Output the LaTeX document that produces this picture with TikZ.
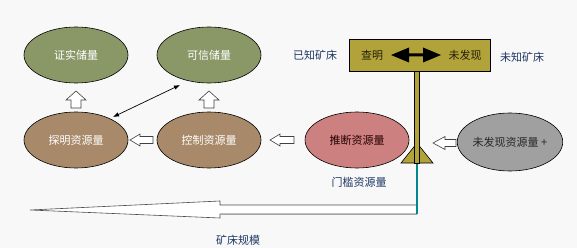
\documentclass[tikz,border=0pt]{standalone}
\usepackage{fontspec}
\newfontfamily\cjk{Noto Sans CJK SC}
\usetikzlibrary{shapes.geometric,arrows.meta}
\definecolor{bgc}{RGB}{248,248,248}
\definecolor{greenE}{RGB}{138,152,104}
\definecolor{brownE}{RGB}{168,138,106}
\definecolor{pinkE}{RGB}{204,128,128}
\definecolor{grayE}{RGB}{160,160,160}
\definecolor{olive}{RGB}{178,162,58}
\definecolor{navy}{RGB}{30,55,100}
\definecolor{tealc}{RGB}{0,136,140}
\tikzset{
  ell/.style={ellipse, draw=black, line width=0.6pt, minimum width=104pt, minimum height=56pt, inner sep=0pt, font=\cjk\fontsize{11}{13}\selectfont},
  wtext/.style={text=white},
  lbl/.style={font=\cjk\fontsize{11}{13}\selectfont, text=navy, inner sep=0pt},
  blk/.style={draw=black!75, fill=white, line width=0.6pt, line join=miter},
}
\begin{document}
\begin{tikzpicture}[x=1pt,y=-1pt]
\useasboundingbox (0,0) rectangle (577,248);
\fill[bgc] (0,0) rectangle (577,248);

% ellipses
\node[ell, fill=greenE, wtext] (zs) at (76,55) {证实储量};
\node[ell, fill=greenE, wtext] (kx) at (209,55) {可信储量};
\node[ell, fill=brownE, wtext] (tm) at (76,140) {探明资源量};
\node[ell, fill=brownE, wtext] (kz) at (209,140) {控制资源量};
\node[ell, fill=pinkE, text=black!85!red] (td) at (357,140) {推断资源量};
\node[ell, fill=grayE, text=black!85, minimum height=58pt] (wf) at (510,142) {未发现资源量 +};

% up block arrows
\draw[blk] (76,91) -- (86,100) -- (81,100) -- (81,108) -- (71,108) -- (71,100) -- (66,100) -- cycle;
\draw[blk] (209,91) -- (219,100) -- (214,100) -- (214,108) -- (204,108) -- (204,100) -- (199,100) -- cycle;

% left block arrows
\draw[blk] (130,140) -- (140,134) -- (140,136.5) -- (153,136.5) -- (153,143.5) -- (140,143.5) -- (140,146) -- cycle;
\draw[blk] (270,140) -- (280,134) -- (280,136.5) -- (294,136.5) -- (294,143.5) -- (280,143.5) -- (280,146) -- cycle;
\draw[blk] (433,143) -- (445,136.5) -- (445,139.5) -- (456,139.5) -- (456,146.5) -- (445,146.5) -- (445,149.5) -- cycle;

% thin double arrow
\coordinate (d1) at (113,117);
\coordinate (d2) at (180,85);
\draw[line width=0.7pt, {Latex[length=6pt,width=4.5pt]}-{Latex[length=6pt,width=4.5pt]}] (d1) -- (d2);

% big scale arrow
\draw[blk, draw=black!70] (30,210) -- (220,201) -- (220,205) -- (417,205) -- (417,214) -- (220,214) -- (220,218) -- cycle;
\draw[gray!70, line width=0.8pt] (220,214.6) -- (417,214.6);

% balance: triangle, pole, teal line
\draw[fill=olive, draw=black, line width=0.6pt] (401,163) -- (417,143) -- (433,163) -- cycle;
\draw[tealc, line width=2.4pt] (417,163) -- (417,214);
\node[draw=black, fill=olive, line width=0.6pt, minimum width=141pt, minimum height=32pt, inner sep=0pt] (box) at (419.5,55) {};
\draw[fill=olive, draw=black, line width=0.6pt] (414.5,71) rectangle (419.5,163);

% box content
\node[font=\cjk\fontsize{11}{13}\selectfont, text=black!80!olive, inner sep=0pt] (cm) at (372,55) {查明};
\node[font=\cjk\fontsize{11}{13}\selectfont, text=black!80!olive, inner sep=0pt] (wfx) at (465,55) {未发现};
\fill[black] (391,55) -- (409,47.5) -- (409,53.5) -- (423,53.5) -- (423,47.5) -- (441,55) -- (423,62.5) -- (423,56.5) -- (409,56.5) -- (409,62.5) -- cycle;

% labels
\node[lbl] (yz) at (315,55) {已知矿床};
\node[lbl] (wz) at (522,57) {未知矿床};
\node[lbl] (mk) at (359,182) {门槛资源量};
\node[lbl] (gm) at (238,240) {矿床规模};
\end{tikzpicture}
\end{document}
